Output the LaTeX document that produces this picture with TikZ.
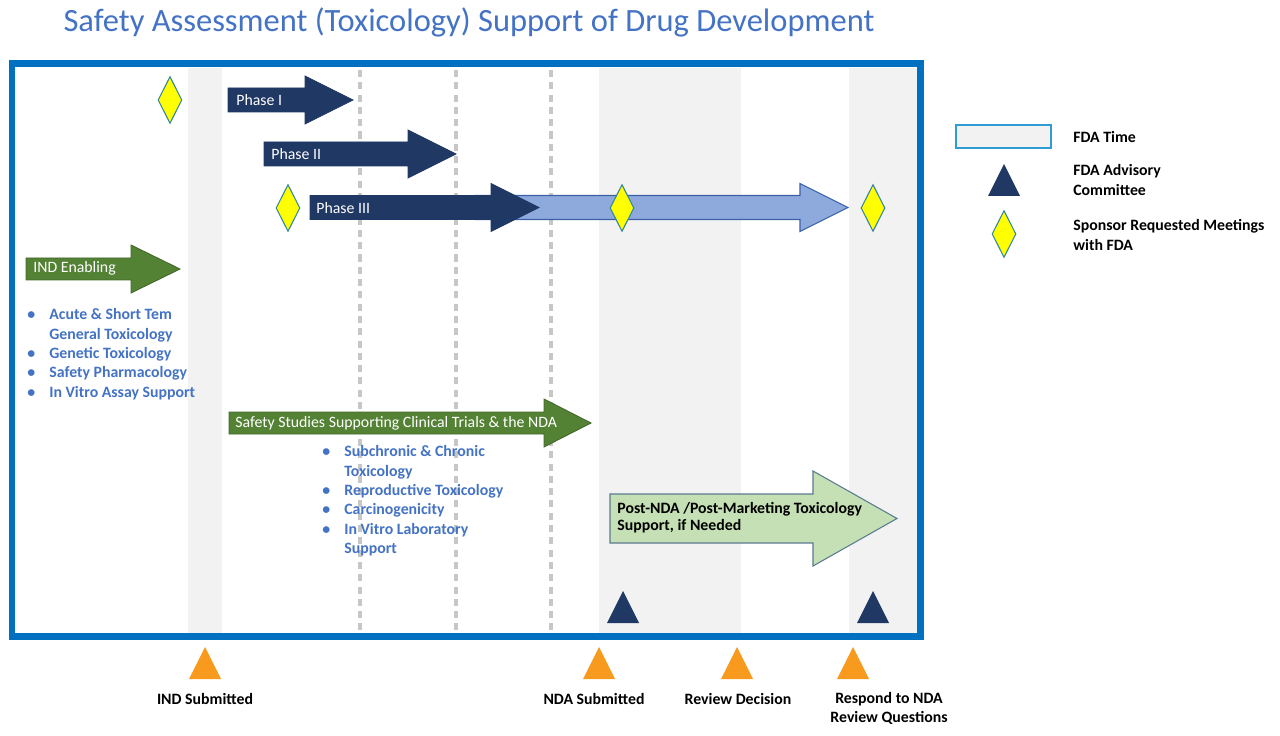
\documentclass[tikz,border=0pt]{standalone}
\usepackage{fontspec}
\setmainfont{Carlito}
\usetikzlibrary{positioning,shapes.geometric}

\definecolor{fdablue}{HTML}{0070C0}
\definecolor{titleblue}{HTML}{4472C4}
\definecolor{navy}{HTML}{1F3864}
\definecolor{phaseblue}{HTML}{8EA9DB}
\definecolor{indgreen}{HTML}{548235}
\definecolor{postgreen}{HTML}{C5E0B4}
\definecolor{postedge}{HTML}{5A7A90}
\definecolor{bandgray}{HTML}{F2F2F2}
\definecolor{milestone}{HTML}{F79A1E}
\definecolor{meetyellow}{HTML}{FFFF00}
\definecolor{meetedge}{HTML}{31859C}

% block arrow: [style]{x start}{x head}{x tip}{y centre}{half shaft}{half head}
\newcommand{\blockarr}[7][]{%
  \draw[#1] (#2,{#5-#6}) -- (#3,{#5-#6}) -- (#3,{#5-#7}) -- (#4,#5)
    -- (#3,{#5+#7}) -- (#3,{#5+#6}) -- (#2,{#5+#6}) -- cycle;}

\tikzset{
  tri/.pic={\path[pic actions] (-16,16) -- (0,-16) -- (16,16) -- cycle;}
}

\begin{document}
\begin{tikzpicture}[
  x=0.02cm, y=-0.02cm,
  lbl/.style={font=\fontsize{9}{10.8}\selectfont\bfseries, inner sep=0, align=center},
  phase/.style={text=white, anchor=west, inner sep=0, font=\fontsize{9}{11}\selectfont},
  bul/.style={text=titleblue, anchor=north west, inner sep=0, font=\fontsize{9}{11}\selectfont\bfseries},
  navyarr/.style={fill=navy, draw=navy, line width=0.4pt},
  greenarr/.style={fill=indgreen, draw=indgreen!80!black, line width=0.5pt},
  meet/.style={diamond, aspect=0.5, fill=meetyellow, draw=meetedge, line width=0.6pt,
    inner sep=0, minimum width=0.48cm, minimum height=0.94cm},
  dashline/.style={draw=black!22, line width=1.8pt, dash pattern=on 4pt off 3pt}
]
\useasboundingbox (0,0) rectangle (1280,736);

% --- title ---
\node[text=titleblue, font=\fontsize{18.5}{20}\selectfont] (title) at (469,22)
  {Safety Assessment (Toxicology) Support of Drug Development};

% --- FDA time bands and grid ---
\fill[bandgray] (188,68) rectangle (222,633);
\fill[bandgray] (599,68) rectangle (741,633);
\fill[bandgray] (849,68) rectangle (917,633);
\foreach \gx in {360,456,551}
  \draw[dashline] (\gx,70) -- (\gx,632);
\draw[fdablue, line width=0.14cm] (12,64) rectangle (920,636);

% --- clinical phases ---
\blockarr[navyarr]{228}{305}{353}{100}{12}{24}
\node[phase] (ph1) at (236,100) {Phase I};
\blockarr[navyarr]{264}{408}{456}{154}{12}{24}
\node[phase] (ph2) at (271,154) {Phase II};
\blockarr[fill=phaseblue, draw=titleblue!85!black, line width=0.6pt]{475}{800}{848}{207.5}{12}{24}
\blockarr[navyarr]{310}{491}{539}{207.5}{12}{24}
\node[phase] (ph3) at (316,208) {Phase III};

\node[meet] (m1) at (170,100) {};
\node[meet] (m2) at (288,208) {};
\node[meet] (m3) at (622,208) {};
\node[meet] (m4) at (873,208) {};

% --- IND enabling ---
\blockarr[greenarr]{26}{131}{180}{269}{11}{24}
\node[phase] (ind) at (33,268) {IND Enabling};
\node[bul] (indlist) at (27,306) {\begin{tabular}{@{}p{0.44cm}@{}l@{}}
  \textbullet & Acute \& Short Tem\\
   & General Toxicology\\
  \textbullet & Genetic Toxicology\\
  \textbullet & Safety Pharmacology\\
  \textbullet & In Vitro Assay Support
\end{tabular}};

% --- safety studies ---
\blockarr[greenarr]{229}{544}{591}{423}{11}{24}
\node[phase] (safety) at (235,423) {Safety Studies Supporting Clinical Trials \& the NDA};
\node[bul] (safelist) at (322,443) {\begin{tabular}{@{}p{0.44cm}@{}l@{}}
  \textbullet & Subchronic \& Chronic\\
   & Toxicology\\
  \textbullet & Reproductive Toxicology\\
  \textbullet & Carcinogenicity\\
  \textbullet & In Vitro Laboratory\\
   & Support
\end{tabular}};

% --- post NDA ---
\blockarr[fill=postgreen, draw=postedge, line width=0.6pt]{610}{813}{897}{518.5}{24.5}{47.5}
\node[lbl, anchor=west, align=left, font=\fontsize{9}{9.6}\selectfont\bfseries] (post) at (617,518)
  {Post-NDA /Post-Marketing Toxicology\\Support, if Needed};

% --- advisory committees ---
\pic[fill=navy] at (623,607) {tri};
\pic[fill=navy] at (873,607) {tri};

% --- milestones ---
\foreach \mx in {205,599,737,853}
  \pic[fill=milestone] at (\mx,663) {tri};
\node[lbl] (indsub) at (205,699) {IND Submitted};
\node[lbl] (ndasub) at (594,699) {NDA Submitted};
\node[lbl] (review) at (738,699) {Review Decision};
\node[lbl] (respond) at (889,708) {Respond to NDA\\Review Questions};

% --- legend ---
\draw[fill=bandgray, draw=titleblue!70!cyan, line width=0.8pt] (956,125) rectangle (1051,148);
\node[lbl, anchor=west] (lgtime) at (1073,137) {FDA Time};
\pic[fill=navy] at (1004,180) {tri};
\node[lbl, anchor=west, align=left, font=\fontsize{9}{11.3}\selectfont\bfseries] (lgadv) at (1073,180)
  {FDA Advisory\\Committee};
\node[meet] (lgmeet) at (1004,234) {};
\node[lbl, anchor=west, align=left, font=\fontsize{9}{11.3}\selectfont\bfseries] (lgmeettxt) at (1073,235)
  {Sponsor Requested Meetings\\with FDA};
\end{tikzpicture}
\end{document}
